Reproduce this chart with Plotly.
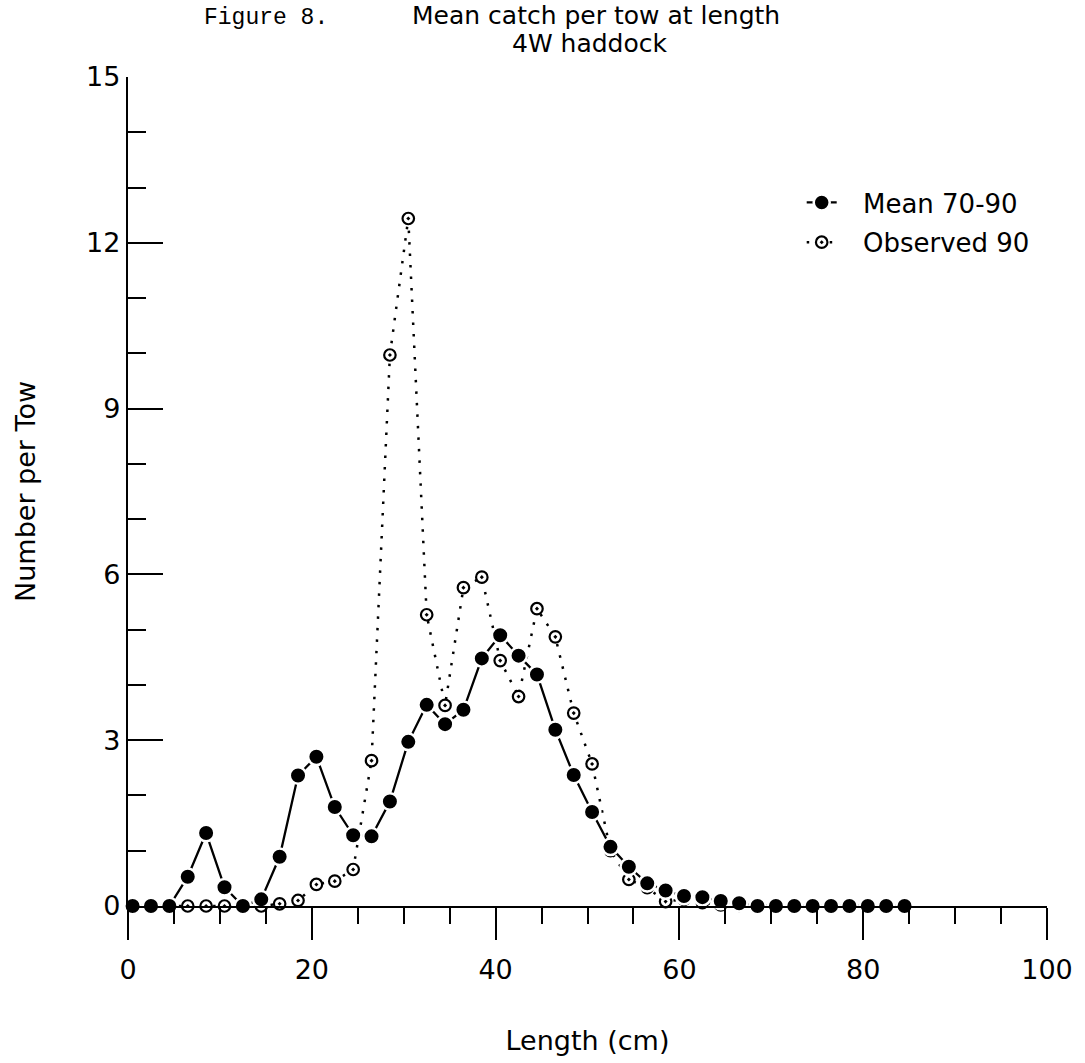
import plotly.graph_objects as go

length_cm = [0.5, 2.5, 4.5, 6.5, 8.5, 10.5, 12.5, 14.5, 16.5, 18.5,
             20.5, 22.5, 24.5, 26.5, 28.5, 30.5, 32.5, 34.5, 36.5, 38.5,
             40.5, 42.5, 44.5, 46.5, 48.5, 50.5, 52.5, 54.5, 56.5, 58.5,
             60.5, 62.5, 64.5, 66.5, 68.5, 70.5, 72.5, 74.5, 76.5, 78.5,
             80.5, 82.5, 84.5]

mean_70_90 = [0, 0, 0, 0.53, 1.32, 0.34, 0, 0.12, 0.89, 2.36,
              2.70, 1.79, 1.28, 1.26, 1.89, 2.97, 3.64, 3.29, 3.55, 4.48,
              4.90, 4.53, 4.19, 3.19, 2.37, 1.70, 1.07, 0.71, 0.41, 0.28,
              0.18, 0.16, 0.09, 0.05, 0, 0, 0, 0, 0, 0,
              0, 0, 0]

observed_90 = [0, 0, 0, 0, 0, 0, 0, 0, 0.04, 0.10,
               0.39, 0.45, 0.66, 2.63, 9.97, 12.44, 5.27, 3.63, 5.76, 5.95,
               4.44, 3.79, 5.38, 4.87, 3.49, 2.57, 1.00, 0.48, 0.33, 0.08,
               0.12, 0.06, 0.02, 0.01, 0, 0, 0, 0, 0, 0,
               0, 0, 0]

series_names = ["Mean 70-90", "Observed 90"]
x_ticks = [0, 20, 40, 60, 80, 100]
y_ticks = [0, 3, 6, 9, 12, 15]

W, H = 1085, 1063
L, R, T, B = 128, 1051.5, 77, 906
FONT = "DejaVu Sans"
GAP = "\u2002\u00a0"  # space between legend symbol and label


def px(xp):
    return (xp - L) / (R - L)


def py(yp):
    return (B - yp) / (B - T)


fig = go.Figure()

fig.add_trace(go.Scatter(
    x=length_cm, y=observed_90, name=GAP + series_names[1], mode="lines+markers",
    line=dict(color="black", width=2.5, dash="2.5px,9px"),
    marker=dict(symbol="circle-dot", size=11.5, color="white",
                line=dict(color="black", width=2.2)),
    cliponaxis=False, legendrank=2, legendgroup="obs",
))

fig.add_trace(go.Scatter(
    x=length_cm, y=mean_70_90, name=GAP + series_names[0], mode="lines+markers",
    line=dict(color="black", width=2.3),
    marker=dict(symbol="circle", size=16.5, color="black",
                line=dict(color="white", width=2.5)),
    cliponaxis=False, legendrank=1, legendgroup="mean",
))

axis_font = dict(family=FONT, size=27, color="black")

fig.update_layout(
    width=W, height=H,
    margin=dict(l=L, r=W - R, t=T, b=H - B, pad=0),
    paper_bgcolor="white", plot_bgcolor="white",
    font=dict(family=FONT, color="black"),
    showlegend=True,
    legend=dict(x=px(805), y=py(179), xanchor="left", yanchor="top",
                font=dict(family=FONT, size=26, color="black"),
                bgcolor="rgba(0,0,0,0)", borderwidth=0,
                tracegroupgap=3, itemwidth=30),
    xaxis=dict(range=[0, 100], tickmode="array", tickvals=x_ticks,
               ticktext=[str(v) for v in x_ticks],
               showgrid=False, zeroline=False,
               showline=True, linecolor="black", linewidth=2.4,
               ticks="outside", ticklen=32, tickwidth=2.2, tickcolor="black",
               tickfont=axis_font, ticklabelstandoff=6,
               minor=dict(dtick=5, tick0=0, ticks="outside", ticklen=16,
                          tickwidth=2, tickcolor="black", showgrid=False),
               title=dict(text="Length (cm)", font=axis_font, standoff=48)),
    yaxis=dict(range=[0, 15], tickmode="array", tickvals=y_ticks,
               ticktext=[str(v) for v in y_ticks],
               showgrid=False, zeroline=False,
               showline=True, linecolor="black", linewidth=2.4,
               ticks="inside", ticklen=35, tickwidth=2.2, tickcolor="black",
               tickfont=axis_font,
               minor=dict(dtick=1, tick0=0, ticks="inside", ticklen=18,
                          tickwidth=2, tickcolor="black", showgrid=False),
               title=dict(text="Number per Tow", font=axis_font, standoff=43)),
)

fig.add_annotation(text="Mean catch per tow at length", xref="paper", yref="paper",
                   x=px(598), y=py(15), xanchor="center", yanchor="middle",
                   showarrow=False, font=dict(family=FONT, size=25, color="black"))
fig.add_annotation(text="4W haddock", xref="paper", yref="paper",
                   x=px(592), y=py(43), xanchor="center", yanchor="middle",
                   showarrow=False, font=dict(family=FONT, size=25, color="black"))
fig.add_annotation(text="Figure 8.", xref="paper", yref="paper",
                   x=px(267), y=py(18), xanchor="center", yanchor="middle",
                   showarrow=False, font=dict(family="Liberation Mono", size=23, color="black"))

fig.write_html("out.html", config={"displayModeBar": False},
               post_script="document.body.style.margin='0px';")
